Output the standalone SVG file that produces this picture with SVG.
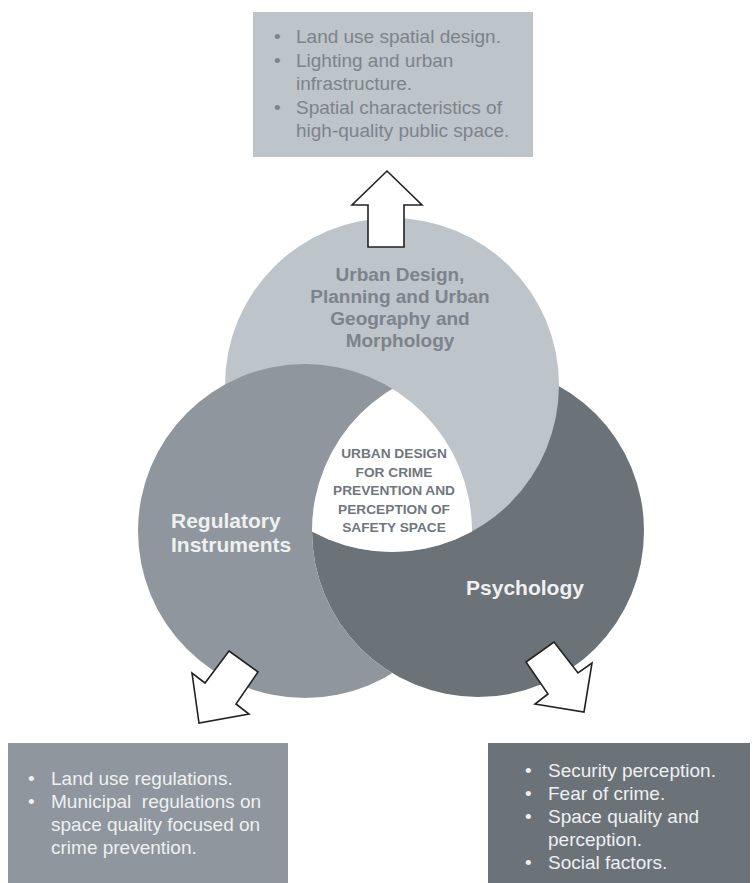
<svg xmlns="http://www.w3.org/2000/svg" width="756" height="883" viewBox="0 0 756 883">
  <style>
    .body { font-family: "Liberation Sans", Arial, sans-serif; font-size: 19px; }
    .lbl { font-family: "Liberation Sans", Arial, sans-serif; font-weight: bold; }
    .dim { fill: #7c838b; }
    .pale { fill: #eef0f2; }
    .arrow { fill: #ffffff; stroke: #222222; stroke-width: 1.6; stroke-linejoin: miter; }
  </style>
  <defs>
    <clipPath id="clipTop"><circle cx="392" cy="385" r="167"/></clipPath>
    <clipPath id="clipLeft"><circle cx="305" cy="531" r="167"/></clipPath>
    <!-- left circle is hidden wherever the right circle lies -->
    <mask id="notRight" maskUnits="userSpaceOnUse" x="0" y="0" width="756" height="883">
      <rect width="756" height="883" fill="#ffffff"/>
      <circle cx="478" cy="531" r="166" fill="#000000"/>
    </mask>
  </defs>

  <rect width="756" height="883" fill="#ffffff"/>

  <!-- Venn circles: each circle sits over one neighbour and under the other -->
  <g id="venn">
    <circle id="circle-psychology" cx="478" cy="531" r="166" fill="#6b7278"/>
    <circle id="circle-urban" cx="392" cy="385" r="167" fill="#bdc4ca"/>
    <circle id="circle-regulatory" cx="305" cy="531" r="167" fill="#8f969d" mask="url(#notRight)"/>
    <!-- common core -->
    <g clip-path="url(#clipTop)">
      <g clip-path="url(#clipLeft)">
        <circle cx="478" cy="531" r="166" fill="#ffffff"/>
      </g>
    </g>
  </g>

  <g id="label-urban" class="lbl dim" font-size="19" text-anchor="middle">
    <text x="400" y="281">Urban Design,</text>
    <text x="400" y="303">Planning and Urban</text>
    <text x="400" y="325">Geography and</text>
    <text x="400" y="347">Morphology</text>
  </g>

  <g id="label-regulatory" class="lbl pale" font-size="21">
    <text x="171" y="528">Regulatory</text>
    <text x="171" y="552">Instruments</text>
  </g>

  <g id="label-psychology" class="lbl pale" font-size="21" text-anchor="middle">
    <text x="525" y="595">Psychology</text>
  </g>

  <g id="label-core" class="lbl" font-size="13.7" fill="#6f767d" text-anchor="middle">
    <text x="394" y="458">URBAN DESIGN</text>
    <text x="394" y="477">FOR CRIME</text>
    <text x="394" y="495">PREVENTION AND</text>
    <text x="394" y="514">PERCEPTION OF</text>
    <text x="394" y="532">SAFETY SPACE</text>
  </g>

  <!-- outgoing arrows -->
  <g id="connectors">
    <polygon class="arrow" points="387,171 422,205 404,205 404,247 368,247 368,205 352,205"/>
    <polygon class="arrow" points="229,651 258,672 236,704 249,714 199,723 192,673 205,683"/>
    <polygon class="arrow" points="554,642 578,673 592,663 584,712 535,704 548,694 526,662"/>
  </g>

  <!-- detail boxes -->
  <g id="box-urban">
    <rect x="253" y="12" width="280" height="145" fill="#bdc4ca"/>
    <g class="body dim">
      <text x="274" y="43">•</text>
      <text x="296" y="43">Land use spatial design.</text>
      <text x="274" y="66.5">•</text>
      <text x="296" y="66.5">Lighting and urban</text>
      <text x="296" y="90">infrastructure.</text>
      <text x="274" y="113.5">•</text>
      <text x="296" y="113.5">Spatial characteristics of</text>
      <text x="296" y="137">high-quality public space.</text>
    </g>
  </g>

  <g id="box-regulatory">
    <rect x="8" y="743" width="280" height="140" fill="#8f969d"/>
    <g class="body pale">
      <text x="28" y="785">•</text>
      <text x="51" y="785">Land use regulations.</text>
      <text x="28" y="808">•</text>
      <text x="51" y="808" xml:space="preserve">Municipal  regulations on</text>
      <text x="51" y="831">space quality focused on</text>
      <text x="51" y="854">crime prevention.</text>
    </g>
  </g>

  <g id="box-psychology">
    <rect x="488" y="743" width="262" height="140" fill="#6b7278"/>
    <g class="body pale">
      <text x="525" y="777">•</text>
      <text x="548" y="777">Security perception.</text>
      <text x="525" y="800">•</text>
      <text x="548" y="800">Fear of crime.</text>
      <text x="525" y="823">•</text>
      <text x="548" y="823">Space quality and</text>
      <text x="548" y="846">perception.</text>
      <text x="525" y="869">•</text>
      <text x="548" y="869">Social factors.</text>
    </g>
  </g>
</svg>
